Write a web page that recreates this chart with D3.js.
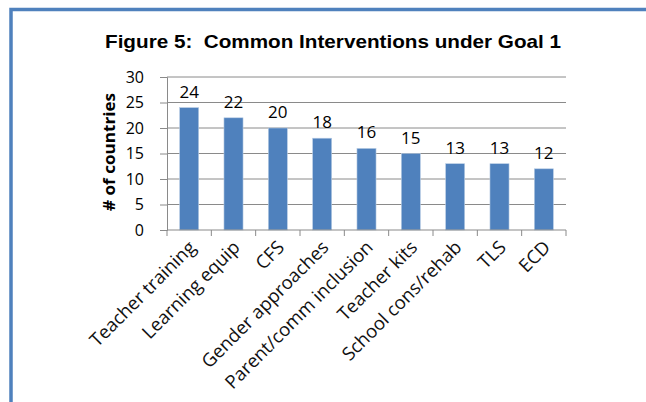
<!DOCTYPE html>
<html>
<head>
<meta charset="utf-8">
<script src="https://cdn.jsdelivr.net/npm/d3@7"></script>
<style>
  body { margin: 0; background: #fff; }
  svg { display: block; }
</style>
</head>
<body>
<script>
// chart data
var categories = ["Teacher training", "Learning equip", "CFS", "Gender approaches",
                  "Parent/comm inclusion", "Teacher kits", "School cons/rehab", "TLS", "ECD"];
var counts = [24, 22, 20, 18, 16, 15, 13, 13, 12];
var yTicks = [0, 5, 10, 15, 20, 25, 30];

var w = 646;
var h = 402;
var plotLeft = 167, plotRight = 566, plotTop = 77, plotBottom = 230;

var svg = d3.select("body")
            .append("svg")
            .attr("width", w)
            .attr("height", h);

// blue frame on left and top
svg.append("path")
   .attr("d", "M11,402 L11,9.5 L646,9.5")
   .attr("fill", "none")
   .attr("stroke", "#4f81bd")
   .attr("stroke-width", 3.5);

// title
svg.append("text")
   .attr("x", 105)
   .attr("y", 47.5)
   .style("white-space", "pre")
   .attr("font-family", "Liberation Sans, Arial, sans-serif")
   .attr("font-weight", "bold")
   .attr("font-size", "18.5px")
   .attr("textLength", 456)
   .attr("lengthAdjust", "spacingAndGlyphs")
   .attr("fill", "#000")
   .text("Figure 5:  Common Interventions under Goal 1");

// scales
var x = d3.scaleBand()
          .domain(categories)
          .range([plotLeft, plotRight])
          .paddingInner(0.57)
          .paddingOuter(0.285);

var y = d3.scaleLinear()
          .domain([0, 30])
          .range([plotBottom, plotTop]);

// gridlines
svg.append("g")
   .selectAll("line")
   .data(yTicks.slice(1))
   .enter().append("line")
   .attr("x1", plotLeft)
   .attr("x2", plotRight)
   .attr("y1", d => y(d))
   .attr("y2", d => y(d))
   .attr("stroke", "#8a8a8a")
   .attr("stroke-width", 1);

// y axis
var yAxis = svg.append("g")
               .attr("transform", "translate(" + plotLeft + ",0)")
               .call(d3.axisLeft(y).tickValues(yTicks).tickSize(7).tickPadding(16));
yAxis.selectAll("line, path").attr("stroke", "#8a8a8a");
yAxis.selectAll("text")
     .attr("font-family", "Open Sans, sans-serif")
     .attr("font-size", "16px")
     .attr("fill", "#000");

// bars
svg.append("g")
   .selectAll("rect")
   .data(counts)
   .enter().append("rect")
   .attr("x", (d, i) => x(categories[i]))
   .attr("y", d => y(d))
   .attr("width", x.bandwidth())
   .attr("height", d => y(0) - y(d))
   .attr("fill", "#4f81bd")
   .attr("stroke", "#b9cde5")
   .attr("stroke-width", 0.6);

// value labels
svg.append("g")
   .selectAll("text")
   .data(counts)
   .enter().append("text")
   .attr("x", (d, i) => x(categories[i]) + x.bandwidth() / 2)
   .attr("y", d => y(d) - 10)
   .attr("text-anchor", "middle")
   .attr("font-family", "Open Sans, sans-serif")
   .attr("font-size", "17px")
   .attr("fill", "#000")
   .text(d => d);

// x axis line and category boundary ticks
var gap = (x.step() - x.bandwidth()) / 2;
var bounds = categories.map(c => x(c) - gap).concat([x(categories[categories.length - 1]) + x.bandwidth() + gap]);
svg.append("line")
   .attr("x1", plotLeft).attr("x2", plotRight)
   .attr("y1", plotBottom).attr("y2", plotBottom)
   .attr("stroke", "#8a8a8a");
svg.append("g")
   .selectAll("line")
   .data(bounds)
   .enter().append("line")
   .attr("x1", d => d).attr("x2", d => d)
   .attr("y1", plotBottom).attr("y2", plotBottom + 6)
   .attr("stroke", "#8a8a8a");

// x labels, rotated
svg.append("g")
   .selectAll("text")
   .data(categories)
   .enter().append("text")
   .attr("transform", d => "translate(" + (x(d) + x.bandwidth() / 2 + 3) + "," + (plotBottom + 14) + ") rotate(-45)")
   .attr("text-anchor", "end")
   .attr("dy", "0.35em")
   .attr("font-family", "Open Sans, sans-serif")
   .attr("font-size", "18.5px")
   .attr("fill", "#111")
   .text(d => d);

// y axis title
svg.append("text")
   .attr("transform", "translate(115,152) rotate(-90)")
   .attr("text-anchor", "middle")
   .attr("font-family", "Open Sans, sans-serif")
   .attr("font-weight", "bold")
   .attr("font-size", "16.5px")
   .attr("textLength", 118)
   .attr("lengthAdjust", "spacingAndGlyphs")
   .attr("fill", "#000")
   .text("# of countries");
</script>
</body>
</html>
